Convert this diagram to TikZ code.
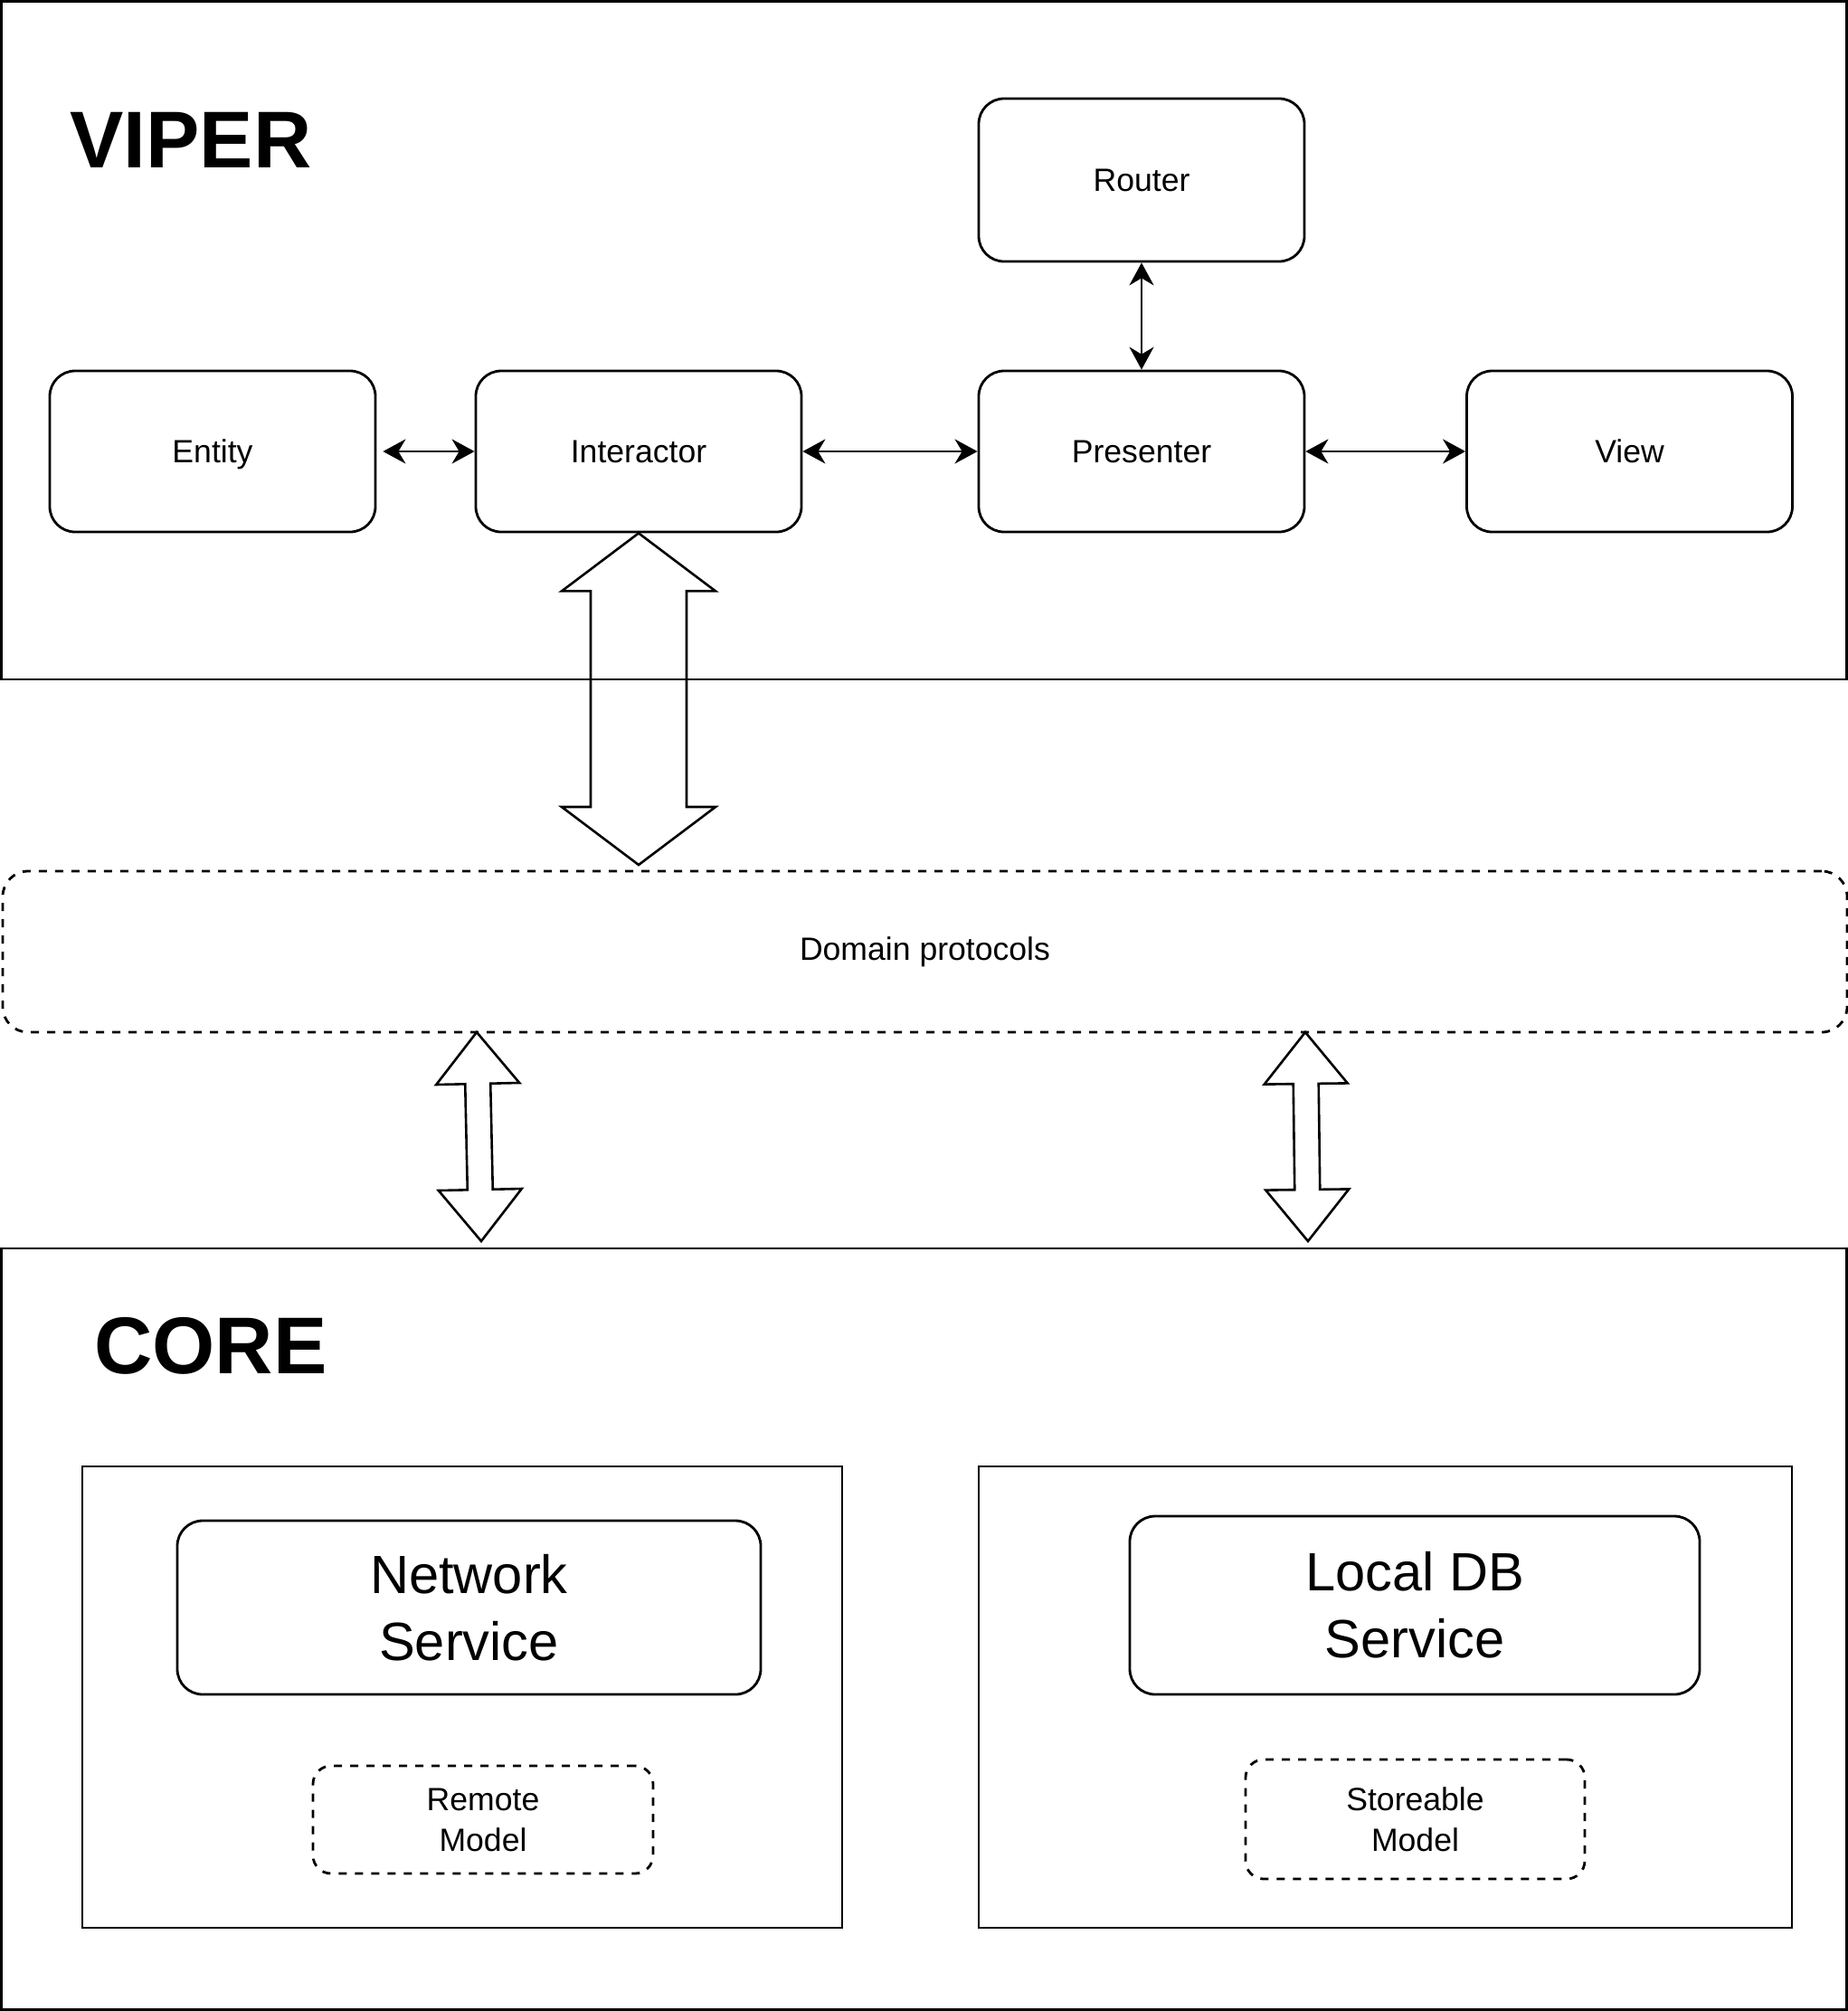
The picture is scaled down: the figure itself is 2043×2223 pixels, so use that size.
\documentclass[tikz,border=0pt]{standalone}
\usepackage{fontspec}
\setmainfont{Liberation Sans}
\usetikzlibrary{arrows.meta,calc}
\tikzset{
	box/.style={
		draw, line width=1.4pt, rounded corners=14pt,
		minimum width=180pt, minimum height=89pt,
		text height=12.8pt, text depth=0pt,
		font=\fontsize{17.8}{22.5}\selectfont},
	dashbox/.style={
		draw, line width=1.4pt, dash pattern=on 4.5pt off 4.5pt,
		rounded corners=10pt, align=center,
		font=\fontsize{17.8}{22.5}\selectfont},
	servicebox/.style={
		draw, line width=1.4pt, rounded corners=14pt, align=center,
		font=\fontsize{29.8}{37}\selectfont},
	groupbox/.style={draw, line width=1.4pt},
	bigtitle/.style={
		anchor=base west, inner sep=0pt,
		font=\fontsize{44.5}{50}\selectfont\bfseries},
	link/.style={
		line width=1.3pt,
		{Stealth[length=12.5pt,width=13.5pt,inset=4pt]}-{Stealth[length=12.5pt,width=13.5pt,inset=4pt]}},
	blockarrow/.style={draw, line width=1.3pt, line join=miter}
}
% fat double arrow from #1 to #2: head half width #3, shaft half width #4, head length #5
\newcommand{\fatarrow}[5]{%
	\draw[blockarrow] (#1) -- ($(#1)!#5!(#2)!#3!90:(#2)$) -- ($(#1)!#5!(#2)!#4!90:(#2)$)
		-- ($(#2)!#5!(#1)!#4!-90:(#1)$) -- ($(#2)!#5!(#1)!#3!-90:(#1)$) -- (#2)
		-- ($(#2)!#5!(#1)!#3!90:(#1)$) -- ($(#2)!#5!(#1)!#4!90:(#1)$)
		-- ($(#1)!#5!(#2)!#4!-90:(#2)$) -- ($(#1)!#5!(#2)!#3!-90:(#2)$) -- cycle;}

\begin{document}
\begin{tikzpicture}[x=0.5pt,y=0.5pt,yscale=-1,xscale=1]
\useasboundingbox (0,0) rectangle (2043,2223); %page has the size of the whole diagram

% VIPER layer
\draw [groupbox] (1.5,1.5) rectangle (2041.5,751) ;
\draw (77,185) node [bigtitle] (vipertitle) {VIPER};

\draw (1262,199) node [box, minimum height=90pt] (router) {Router};
\draw (235,499) node [box] (entity) {Entity};
\draw (706,499) node [box] (inter) {Interactor};
\draw (1262,499) node [box] (pres) {Presenter};
\draw (1801.5,499) node [box] (view) {View};


\draw [link, shorten <=3.5pt] (entity) -- (inter) ;
\draw [link] (inter) -- (pres) ;
\draw [link] (pres) -- (view) ;
\draw [link] (router) -- (pres) ;


% protocols
\draw (1022.5,1052) node [dashbox, rounded corners=14pt, minimum width=1019.5pt, minimum height=89pt] (dom) {Domain protocols};

\coordinate (domtip) at (706,956);
\fatarrow{inter.south}{domtip}{42.5pt}{26.5pt}{32pt}

\coordinate (netup) at (527,1141);
\coordinate (netdown) at (532,1372);
\fatarrow{netup}{netdown}{23pt}{7pt}{28.5pt}

\coordinate (dbup) at (1443,1141);
\coordinate (dbdown) at (1446,1372);
\fatarrow{dbup}{dbdown}{23pt}{7pt}{28.5pt}


% CORE layer
\draw [groupbox] (1.5,1380) rectangle (2041.5,2221.5) ;
\draw (104,1518) node [bigtitle] (coretitle) {CORE};

\draw [groupbox] (91,1621) rectangle (931,2131) ;
\draw [groupbox] (1082,1621) rectangle (1981,2131) ;

\draw (518.5,1777) node [servicebox, minimum width=322.5pt, minimum height=96pt] (net) {Network\\Service};
\draw (1564,1774.5) node [servicebox, minimum width=315pt, minimum height=98.5pt] (db) {Local DB\\Service};

\draw (534,2011.5) node [dashbox, minimum width=188pt, minimum height=59.5pt] (remote) {Remote\\Model};
\draw (1564.5,2011) node [dashbox, minimum width=187.5pt, minimum height=66pt] (store) {Storeable\\Model};

\end{tikzpicture}
\end{document}
